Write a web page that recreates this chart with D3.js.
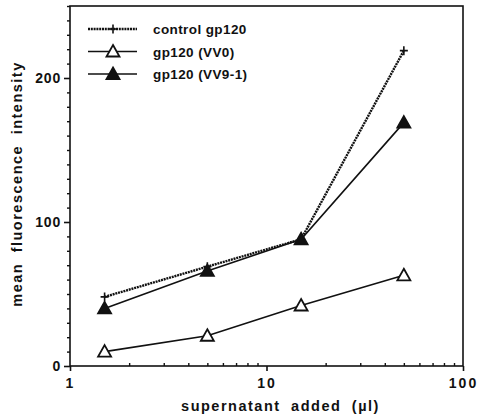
<!DOCTYPE html>
<html>
<head>
<meta charset="utf-8">
<script src="https://cdn.jsdelivr.net/npm/d3@7"></script>
<style>
  body { margin: 0; background: #fff; }
  text { font-family: "Liberation Sans", Arial, sans-serif; font-weight: bold; fill: #111; }
</style>
</head>
<body>
<div id="chart"></div>
<script>
// data
const volumes = [1.5, 5, 15, 50];
const controlVals = [48, 69, 88, 219];
const vv0Vals = [10, 21, 42, 63];
const vv91Vals = [40, 66, 88, 169];
const seriesNames = ["control gp120", "gp120 (VV0)", "gp120 (VV9-1)"];
const xTicks = [1, 10, 100];
const yTicks = [0, 100, 200];

const width = 478, height = 416;
const margin = {top: 6, right: 15, bottom: 50, left: 70};

const svg = d3.select("#chart")
  .append("svg")
  .attr("width", width)
  .attr("height", height);

const xScale = d3.scaleLog()
  .domain([1, 100])
  .range([margin.left, width - margin.right]);

const yScale = d3.scaleLinear()
  .domain([0, 250])
  .range([height - margin.bottom, margin.top]);

// frame
svg.append("rect")
  .attr("x", margin.left)
  .attr("y", margin.top)
  .attr("width", xScale(100) - xScale(1))
  .attr("height", yScale(0) - yScale(250))
  .attr("fill", "none")
  .attr("stroke", "#111")
  .attr("stroke-width", 1.6);

/*
  Axes
*/

// y minor ticks (every 10), outward
const yMinor = d3.range(0, 251, 10).filter(v => yTicks.indexOf(v) < 0);
svg.append("g")
  .attr("transform", `translate(${margin.left},0)`)
  .call(d3.axisLeft(yScale).tickValues(yMinor).tickSize(3).tickFormat(""))
  .call(g => g.select(".domain").remove())
  .selectAll("line").attr("stroke", "#111").attr("stroke-width", 1.4);

svg.append("g")
  .attr("transform", `translate(${margin.left},0)`)
  .call(d3.axisLeft(yScale).tickValues(yTicks).tickSize(6).tickPadding(3))
  .call(g => g.select(".domain").remove())
  .call(g => g.selectAll("line").attr("stroke", "#111").attr("stroke-width", 1.6))
  .selectAll("text")
    .attr("font-size", "14px")
    .attr("letter-spacing", "0.8px");

// x minor ticks, pointing into plot
const xMinor = [];
[1, 10].forEach(dec => { for (let k = 2; k <= 9; k++) xMinor.push(dec * k); });
svg.append("g")
  .attr("transform", `translate(0,${yScale(0)})`)
  .call(d3.axisTop(xScale).tickValues(xMinor).tickSize(3).tickFormat(""))
  .call(g => g.select(".domain").remove())
  .selectAll("line").attr("stroke", "#111").attr("stroke-width", 1.4);

svg.append("g")
  .attr("transform", `translate(0,${yScale(0)})`)
  .call(d3.axisBottom(xScale).tickValues(xTicks).tickSize(5).tickPadding(7).tickFormat(d3.format("d")))
  .call(g => g.select(".domain").remove())
  .call(g => g.selectAll("line").attr("stroke", "#111").attr("stroke-width", 1.6))
  .selectAll("text")
    .attr("font-size", "14px")
    .attr("letter-spacing", "2px");

// axis titles
svg.append("text")
  .attr("x", (xScale(1) + xScale(100)) / 2 + 14)
  .attr("y", 411)
  .attr("text-anchor", "middle")
  .attr("font-size", "14.5px")
  .attr("letter-spacing", "1.5px")
  .attr("word-spacing", "5px")
  .text("supernatant added (\u00b5l)");

svg.append("text")
  .attr("transform", `translate(22,${(yScale(0) + yScale(250)) / 2 - 2}) rotate(-90)`)
  .attr("text-anchor", "middle")
  .attr("font-size", "14.5px")
  .attr("letter-spacing", "1.5px")
  .attr("word-spacing", "5px")
  .text("mean fluorescence intensity");

/*
  Markers
*/

const triPath = "M0,-6.5L6.5,5L-6.5,5Z";
const crossPath = "M-4,0L4,0M0,-4.5L0,4.5";

function drawMarker(g, kind) {
  if (kind === "cross") {
    g.append("path").attr("d", crossPath)
      .attr("stroke", "#111").attr("stroke-width", 1.6).attr("fill", "none");
  } else {
    g.append("path").attr("d", triPath)
      .attr("stroke", "#111").attr("stroke-width", 1.8)
      .attr("fill", kind === "open" ? "#fff" : "#111");
  }
}

const line = d3.line()
  .x(d => xScale(d[0]))
  .y(d => yScale(d[1]));

const series = [
  {name: seriesNames[0], vals: controlVals, kind: "cross", dash: "2,0.8", sw: 2.4},
  {name: seriesNames[1], vals: vv0Vals, kind: "open", dash: null, sw: 1.6},
  {name: seriesNames[2], vals: vv91Vals, kind: "filled", dash: null, sw: 1.6}
];

series.forEach(s => {
  const pts = volumes.map((v, i) => [v, s.vals[i]]);
  svg.append("path")
    .datum(pts)
    .attr("d", line)
    .attr("fill", "none")
    .attr("stroke", "#111")
    .attr("stroke-width", s.sw)
    .attr("stroke-dasharray", s.dash);
  svg.selectAll(null)
    .data(pts)
    .enter()
    .append("g")
      .attr("transform", d => `translate(${xScale(d[0])},${yScale(d[1])})`)
      .each(function() { drawMarker(d3.select(this), s.kind); });
});

/*
  Legend
*/

const legend = svg.append("g");
series.forEach((s, i) => {
  const y = 29 + i * 22.5;
  legend.append("line")
    .attr("x1", 88).attr("x2", 137)
    .attr("y1", y).attr("y2", y)
    .attr("stroke", "#111")
    .attr("stroke-width", s.sw)
    .attr("stroke-dasharray", s.dash);
  const m = legend.append("g").attr("transform", `translate(113,${y})`);
  drawMarker(m, s.kind);
  legend.append("text")
    .attr("x", 153)
    .attr("y", y + 5)
    .attr("font-size", "13.5px")
    .attr("letter-spacing", "0.4px")
    .text(s.name);
});
</script>
</body>
</html>
